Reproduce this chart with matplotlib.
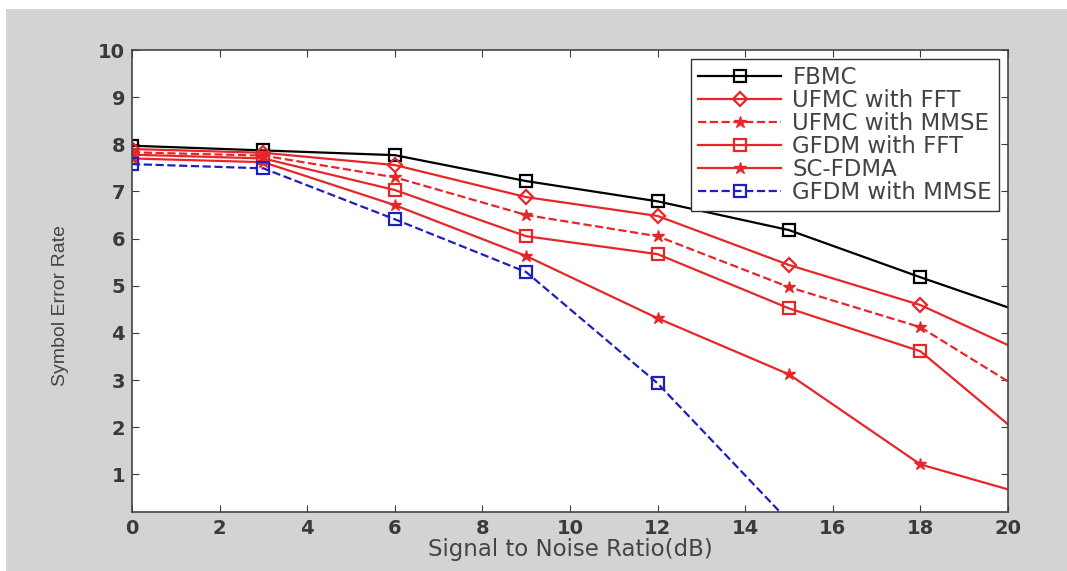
import matplotlib
matplotlib.use("Agg")
import matplotlib.pyplot as plt
from matplotlib.patches import Rectangle

# data --------------------------------------------------------------------
snr = [0, 3, 6, 9, 12, 15, 18, 20]
fbmc = [7.97, 7.87, 7.77, 7.22, 6.79, 6.18, 5.18, 4.54]
ufmc_fft = [7.90, 7.82, 7.56, 6.88, 6.48, 5.44, 4.59, 3.74]
ufmc_mmse = [7.83, 7.76, 7.30, 6.50, 6.05, 4.97, 4.12, 2.97]
gfdm_fft = [7.78, 7.70, 7.03, 6.05, 5.67, 4.52, 3.61, 2.06]
sc_fdma = [7.70, 7.62, 6.71, 5.63, 4.31, 3.12, 1.21, 0.68]
snr_blue = [0, 3, 6, 9, 12, 15]
gfdm_mmse = [7.58, 7.49, 6.41, 5.29, 2.93, 0.0]

labels = ["FBMC", "UFMC with FFT", "UFMC with MMSE", "GFDM with FFT",
          "SC-FDMA", "GFDM with MMSE"]
xticks = list(range(0, 21, 2))
yticks = list(range(1, 11))

plt.rcParams['font.family'] = ['DejaVu Sans']

fig = plt.figure(figsize=(10.67, 5.71), dpi=100, facecolor='white')
# grey window background with a thin white strip at top / left
fig.add_artist(Rectangle((6 / 1067, 0), 1, 1 - 9 / 571, transform=fig.transFigure,
                         facecolor='#d3d3d3', edgecolor='none', zorder=-10))
ax = fig.add_axes([0.1237, 0.1033, 0.821, 0.8091])
ax.set_facecolor('white')

red = '#e8262a'
mk = list(range(7))
ax.plot(snr, fbmc, '-', color='black', lw=1.6, marker='s', ms=9, mfc='none',
        mew=1.6, markevery=mk, label=labels[0])
ax.plot(snr, ufmc_fft, '-', color=red, lw=1.6, marker='D', ms=7, mfc='none',
        mew=1.6, markevery=mk, label=labels[1])
ax.plot(snr, ufmc_mmse, '--', color=red, lw=1.6, marker='*', ms=9,
        markevery=mk, label=labels[2])
ax.plot(snr, gfdm_fft, '-', color=red, lw=1.6, marker='s', ms=9, mfc='none',
        mew=1.6, markevery=mk, label=labels[3])
ax.plot(snr, sc_fdma, '-', color=red, lw=1.6, marker='*', ms=9,
        markevery=mk, label=labels[4])
ax.plot(snr_blue, gfdm_mmse, '--', color='#1f1fbf', lw=1.6, marker='s', ms=9,
        mfc='none', mew=1.6, markevery=list(range(5)), label=labels[5])

ax.set_xlim(0, 20)
ax.set_ylim(0.2, 10)
ax.set_xticks(xticks)
ax.set_yticks(yticks)
ax.tick_params(direction='in', top=True, right=True, length=5,
               labelsize=14, colors='#3a3a3a', pad=5)
for t in ax.get_xticklabels() + ax.get_yticklabels():
    t.set_fontweight('bold')
for s in ax.spines.values():
    s.set_color('#444444')
    s.set_linewidth(1.2)

ax.set_xlabel("Signal to Noise Ratio(dB)", fontsize=16.5, color='#444444', labelpad=0)
ax.set_ylabel("Symbol Error Rate", fontsize=14, color='#444444',
              family=['Liberation Sans Narrow', 'Liberation Sans', 'DejaVu Sans'])
ax.yaxis.set_label_coords(-0.072, 0.448)

leg = ax.legend(loc='upper right', fontsize=16.5, handlelength=3.6,
                handletextpad=0.5, borderaxespad=0.4, fancybox=False,
                framealpha=1, edgecolor='#333333', labelspacing=0.0,
                borderpad=0.3)
for t in leg.get_texts():
    t.set_color('#444444')

fig.savefig("out.png", dpi=100, facecolor=fig.get_facecolor())
